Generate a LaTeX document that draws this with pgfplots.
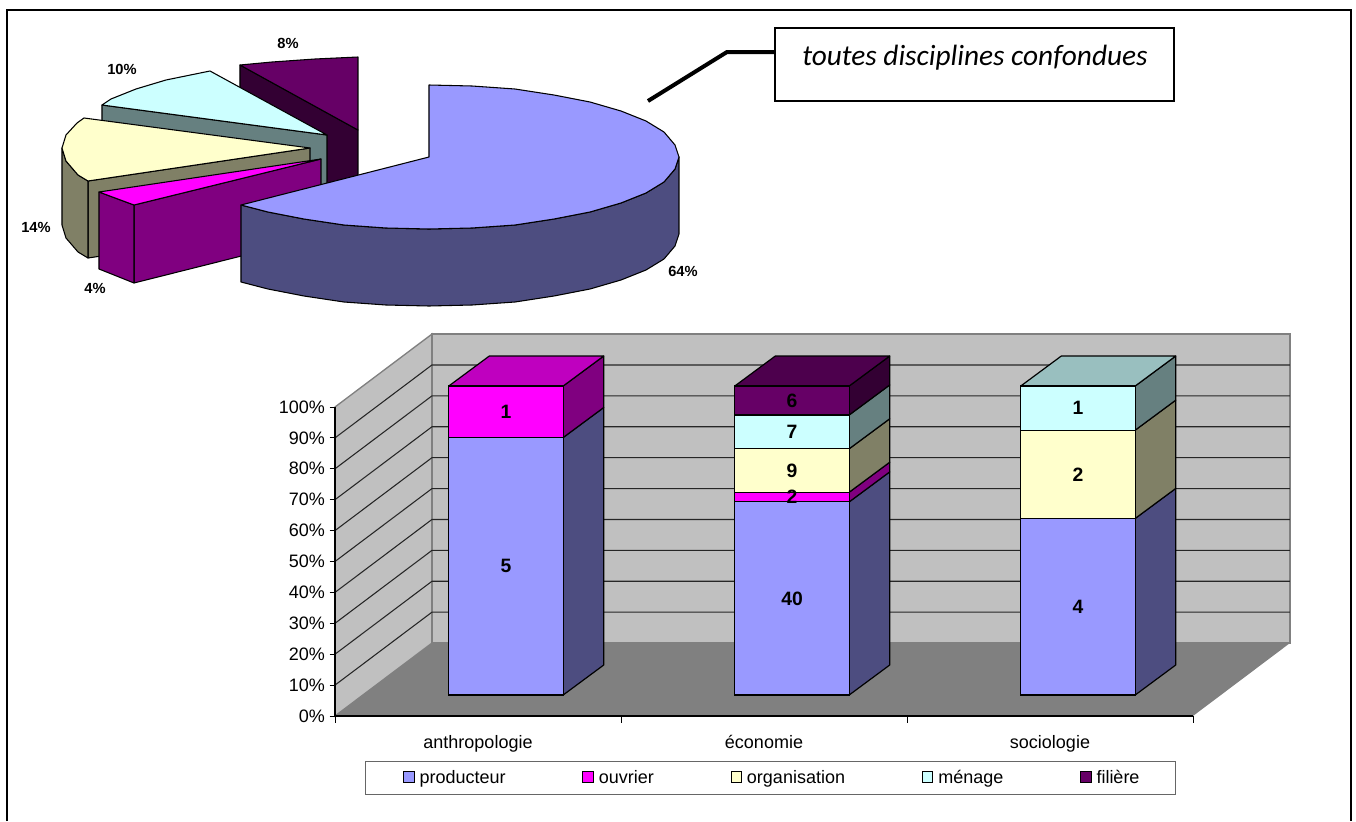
\documentclass[border=0pt]{standalone}
\usepackage{fontspec}
\setmainfont{Liberation Sans}
\newfontfamily\callfont{Carlito}
\usepackage{pgfplots}
\usepackage{pgfplotstable}
\pgfplotsset{compat=1.18}

% 1 pixel of the reference = 0.75pt here
\definecolor{prodc}{HTML}{9999FF}
\definecolor{prods}{HTML}{4D4D80}
\definecolor{ouvc}{HTML}{FF00FF}
\definecolor{ouvs}{HTML}{800080}
\definecolor{ouvt}{HTML}{BF00BF}
\definecolor{orgc}{HTML}{FFFFCC}
\definecolor{orgs}{HTML}{808066}
\definecolor{menc}{HTML}{CCFFFF}
\definecolor{mens}{HTML}{668080}
\definecolor{ment}{HTML}{99BFBF}
\definecolor{filc}{HTML}{660066}
\definecolor{fils}{HTML}{330033}
\definecolor{filt}{HTML}{4D004D}
\definecolor{wall}{HTML}{C0C0C0}
\definecolor{floorc}{HTML}{808080}

% shares of each discipline, in %
\pgfplotstableread{
x    prod  ouv   org   men   fil
0.5  83.33 16.67 0     0     0
1.5  62.50 3.13  14.06 10.94 9.37
2.5  57.14 0     28.57 14.29 0
}\shares

\pgfplotsset{
  chart/.style={scale only axis,width=643.5pt,height=231.75pt,
    xmin=0,xmax=3,ymin=0,ymax=100,clip=false},
  depth/.style={chart,hide axis,at={(272.25pt,94.5pt)}},
  face/.style={fill=#1,draw=black,line width=0.9pt,line join=round,no marks,forget plot},
  pface/.style={fill=#1,draw=black,line width=0.8pt,line join=round,no marks,forget plot},
}

\begin{document}
\begin{tikzpicture}
\path[use as bounding box] (0,0) rectangle (1017pt,615.75pt);

% canvas in reference pixels: frame, pie, callout
\begin{axis}[
  scale only axis,width=1017pt,height=615.75pt,at={(0,0)},
  xmin=0,xmax=1356,ymin=0,ymax=821,y dir=reverse,hide axis,clip=false,
]
\addplot[draw=black,line width=2.1pt,no marks] coordinates {(7,821) (7,10) (1351,10) (1351,821)};

% filiere
\addplot[pface=fils] coordinates {(240,65) (358,130) (358,207) (240,142)} -- cycle;
\addplot[pface=filc] coordinates {(358,130) (240,65) (272,62) (315,59) (358,57)} -- cycle;
% menage
\addplot[pface=mens] coordinates {(102,105) (327,135) (327,212) (102,182)} -- cycle;
\addplot[pface=menc] coordinates {(327,135) (102,105) (111,99) (136,89) (166,80) (210,71)} -- cycle;
% organisation
\addplot[pface=orgs] coordinates {(88,181) (310,148) (310,225) (88,258)} -- cycle;
\addplot[pface=orgs] coordinates {(88,181) (78,175) (66,161) (62,148) (62,225) (66,238) (78,252) (88,258)} -- cycle;
\addplot[pface=orgc] coordinates {(310,148) (88,181) (78,175) (66,161) (62,148) (66,135) (77,123) (84,118)} -- cycle;
% ouvrier
\addplot[pface=ouvs] coordinates {(134,205) (321,159) (321,236) (134,283)} -- cycle;
\addplot[pface=ouvs] coordinates {(99,192) (134,205) (134,283) (99,269)} -- cycle;
\addplot[pface=ouvc] coordinates {(321,159) (99,192) (134,205)} -- cycle;
% producteur
\addplot[pface=prods] coordinates {(679,157) (675,169) (664,182) (646,193) (621,203) (590,212) (554,219) (515,225) (472,228) (429,229) (386,228) (344,225) (304,219) (268,212) (241,205)
  (241,282) (268,289) (304,296) (344,302) (386,305) (429,306) (472,305) (515,302) (554,296) (590,289) (621,280) (646,270) (664,259) (675,246) (679,234)} -- cycle;
\addplot[pface=prodc] coordinates {(429,157) (429,85) (472,86) (515,89) (554,95) (590,102) (621,111) (646,121) (664,132) (675,145) (679,157) (675,169) (664,182) (646,193) (621,203) (590,212) (554,219) (515,225) (472,228) (429,229) (386,228) (344,225) (304,219) (268,212) (241,205)} -- cycle;

\node[font=\fontsize{11}{13}\bfseries\selectfont] at (axis cs:288,43) {8\%};
\node[font=\fontsize{11}{13}\bfseries\selectfont] at (axis cs:122,69) {10\%};
\node[font=\fontsize{11}{13}\bfseries\selectfont] at (axis cs:36,227) {14\%};
\node[font=\fontsize{11}{13}\bfseries\selectfont] at (axis cs:95,288) {4\%};
\node[font=\fontsize{11}{13}\bfseries\selectfont] at (axis cs:683,271) {64\%};

% callout
\addplot[draw=black,line width=3pt,no marks] coordinates {(648,101) (727,52) (776,52)};
\addplot[fill=white,draw=black,line width=1.1pt,no marks] coordinates {(775,28) (1174,28) (1174,101) (775,101)} -- cycle;
\node[font=\callfont\itshape\fontsize{22}{26}\selectfont] at (axis cs:975,58) {toutes disciplines confondues};
\end{axis}

% walls, grid and the axes proper
\begin{axis}[
  chart,at={(251.25pt,78.75pt)},
  axis x line=bottom,axis y line=left,axis line style={-,line width=0.9pt,draw=black},
  axis on top,
  ytick={0,10,...,100},
  yticklabels={0\%,10\%,20\%,30\%,40\%,50\%,60\%,70\%,80\%,90\%,100\%},
  xtick={0.5,1.5,2.5},
  xticklabels={anthropologie,\'economie,sociologie},
  minor xtick={0,1,2,3},
  major x tick style={draw=none},
  minor x tick style={draw=black,line width=0.7pt},
  minor tick length=5pt,
  y tick style={draw=black,line width=0.7pt},
  major tick length=4pt,
  tick align=outside,
  tick label style={font=\fontsize{13.5}{16}\selectfont},
  xticklabel style={yshift=-7pt},
  /pgf/number format/assume math mode=true,
]
\addplot[fill=floorc,draw=none,no marks] coordinates {(0,0) (3,0) (3.339,23.6) (0.339,23.6)} -- cycle;
\addplot[fill=wall,draw=floorc,line width=1pt,no marks] coordinates {(0,0) (0.339,23.6) (0.339,123.6) (0,100)} -- cycle;
\addplot[fill=wall,draw=floorc,line width=1pt,no marks] coordinates {(0.339,23.6) (3.339,23.6) (3.339,123.6) (0.339,123.6)} -- cycle;
\addplot[draw=black!85,line width=0.8pt,no marks,unbounded coords=jump] coordinates {
  (0,10) (0.339,33.6) (3.339,33.6) (3.339,nan)
  (0,20) (0.339,43.6) (3.339,43.6) (3.339,nan)
  (0,30) (0.339,53.6) (3.339,53.6) (3.339,nan)
  (0,40) (0.339,63.6) (3.339,63.6) (3.339,nan)
  (0,50) (0.339,73.6) (3.339,73.6) (3.339,nan)
  (0,60) (0.339,83.6) (3.339,83.6) (3.339,nan)
  (0,70) (0.339,93.6) (3.339,93.6) (3.339,nan)
  (0,80) (0.339,103.6) (3.339,103.6) (3.339,nan)
  (0,90) (0.339,113.6) (3.339,113.6)
};
\end{axis}

% side and top faces of the columns
\begin{axis}[depth]
\addplot[face=prods] coordinates {(0.7,0) (0.8416,9.7) (0.8416,93.03) (0.7,83.33)} -- cycle;
\addplot[face=ouvs] coordinates {(0.7,83.33) (0.8416,93.03) (0.8416,109.7) (0.7,100)} -- cycle;
\addplot[face=ouvt] coordinates {(0.3,100) (0.4416,109.7) (0.8416,109.7) (0.7,100)} -- cycle;

\addplot[face=prods] coordinates {(1.7,0) (1.8416,9.7) (1.8416,72.2) (1.7,62.5)} -- cycle;
\addplot[face=ouvs] coordinates {(1.7,62.5) (1.8416,72.2) (1.8416,75.33) (1.7,65.63)} -- cycle;
\addplot[face=orgs] coordinates {(1.7,65.63) (1.8416,75.33) (1.8416,89.39) (1.7,79.69)} -- cycle;
\addplot[face=mens] coordinates {(1.7,79.69) (1.8416,89.39) (1.8416,100.33) (1.7,90.63)} -- cycle;
\addplot[face=fils] coordinates {(1.7,90.63) (1.8416,100.33) (1.8416,109.7) (1.7,100)} -- cycle;
\addplot[face=filt] coordinates {(1.3,100) (1.4416,109.7) (1.8416,109.7) (1.7,100)} -- cycle;

\addplot[face=prods] coordinates {(2.7,0) (2.8416,9.7) (2.8416,66.84) (2.7,57.14)} -- cycle;
\addplot[face=orgs] coordinates {(2.7,57.14) (2.8416,66.84) (2.8416,95.41) (2.7,85.71)} -- cycle;
\addplot[face=mens] coordinates {(2.7,85.71) (2.8416,95.41) (2.8416,109.7) (2.7,100)} -- cycle;
\addplot[face=ment] coordinates {(2.3,100) (2.4416,109.7) (2.8416,109.7) (2.7,100)} -- cycle;
\end{axis}

% front of the columns, with the legend
\begin{axis}[
  depth,
  ybar stacked,bar width=0.4,
  legend columns=5,
  legend image code/.code={\path (-3pt,0) (9.5pt,0);\draw[#1,draw=black,line width=0.7pt] (0pt,-3.4pt) rectangle (7.9pt,4.5pt);},
  legend style={at={(0.0023,-0.2136)},anchor=north west,draw=black!60,line width=1pt,
    font=\fontsize{13.5}{16}\selectfont,inner xsep=25pt,inner ysep=4.5pt,
    /tikz/every even column/.append style={column sep=52.5pt}},
]
\addplot[fill=prodc,draw=black,line width=0.9pt] table[x=x,y=prod] {\shares};
\addplot[fill=ouvc,draw=black,line width=0.9pt] table[x=x,y=ouv] {\shares};
\addplot[fill=orgc,draw=black,line width=0.9pt] table[x=x,y=org] {\shares};
\addplot[fill=menc,draw=black,line width=0.9pt] table[x=x,y=men] {\shares};
\addplot[fill=filc,draw=black,line width=0.9pt] table[x=x,y=fil] {\shares};
\legend{producteur,ouvrier,organisation,m\'enage,fili\`ere}
\end{axis}

% counts written on the columns, at mid height of each segment
\begin{axis}[depth]
\addplot[only marks,mark=none,point meta=explicit symbolic,nodes near coords,
  every node near coord/.append style={anchor=center,font=\fontsize{14.5}{17}\bfseries\selectfont,inner sep=0pt}]
coordinates {
  (0.5,41.67)[5] (0.5,91.67)[1]
  (1.5,31.25)[40] (1.5,64.06)[2] (1.5,72.66)[9] (1.5,85.16)[7] (1.5,95.31)[6]
  (2.5,28.57)[4] (2.5,71.43)[2] (2.5,92.86)[1]
};
\end{axis}
\end{tikzpicture}
\end{document}
